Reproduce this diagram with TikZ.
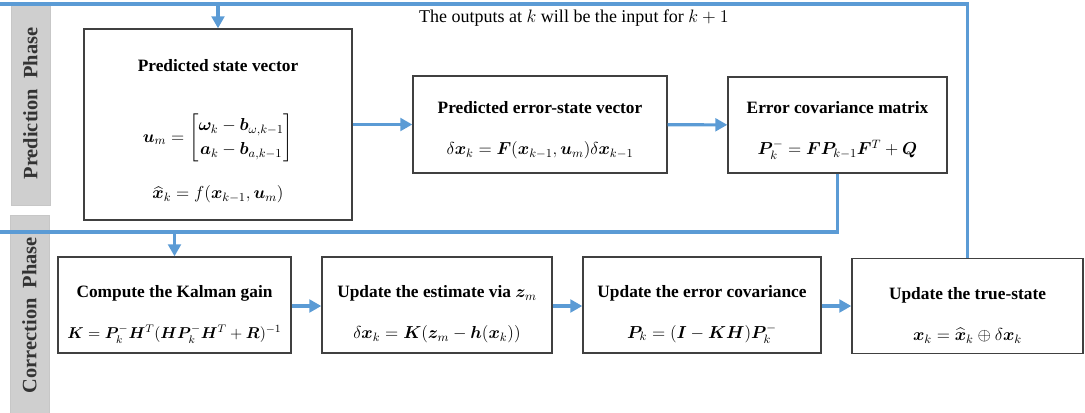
\documentclass[tikz,border=0pt]{standalone}
\usepackage{fix-cm}
\usepackage{amsmath}
\usepackage{bm}
\usepackage{fontspec}
\setmainfont{Liberation Serif}[BoldFont={Liberation Serif Bold},
    ItalicFont={Liberation Serif Italic}]
\usetikzlibrary{arrows.meta}

\definecolor{flowblue}{RGB}{91,155,213}
\newcommand{\pxu}{0.75pt}
\newcommand{\headgap}[1]{\rule{0pt}{#1}}

\begin{document}
\begin{tikzpicture}[
        x=0.75pt, y=-0.75pt,
        flow/.style={draw=flowblue, line width=2.3pt,
            -{Triangle[length=9pt,width=9.5pt]}},
        stepbox/.style={draw=black!75, line width=1pt, fill=white,
            align=center, inner sep=2pt,
            font=\fontsize{13}{15.6}\selectfont},
        phase/.style={draw=black!22, fill=black!19, rotate=90,
            font=\fontsize{15.3}{17}\selectfont\bfseries, text=black!80}
    ]

        \useasboundingbox (0,0) rectangle (1085,412);

        % Fasi
        \node[phase, minimum width=203*\pxu, minimum height=39*\pxu]
            (predphase) at (30.5,103.5) {Prediction\ \ Phase};
        \node[phase, minimum width=200*\pxu, minimum height=39*\pxu]
            (corrphase) at (29.5,315) {Correction\ \ Phase};

        % Fase di predizione
        \node[stepbox, minimum width=268*\pxu, minimum height=191*\pxu]
            (pred) at (218,124.5) {\headgap{19pt}\textbf{Predicted state vector}\\[31pt]
            $\renewcommand{\arraystretch}{1.15}
            \bm{u}_m = \begin{bmatrix} \bm{\omega}_k - \bm{b}_{\omega,k-1}\\
            \bm{a}_k - \bm{b}_{a,k-1} \end{bmatrix}$\\[17pt]
            $\widehat{\bm{x}}_k = f(\bm{x}_{k-1},\bm{u}_m)$};

        \node[stepbox, minimum width=254*\pxu, minimum height=97*\pxu]
            (errstate) at (540,124.5) {\headgap{17.5pt}\textbf{Predicted error-state vector}\\[15pt]
            $\delta\bm{x}_k = \bm{F}(\bm{x}_{k-1},\bm{u}_m)\delta\bm{x}_{k-1}$};

        \node[stepbox, minimum width=219*\pxu, minimum height=96*\pxu]
            (errcov) at (837.5,125) {\headgap{17.5pt}\textbf{Error covariance matrix}\\[15pt]
            $\bm{P}_k^- = \bm{F}\bm{P}_{k-1}\bm{F}^T + \bm{Q}$};

        % Fase di correzione
        \node[stepbox, minimum width=233*\pxu, minimum height=96*\pxu]
            (gain) at (174.5,305) {\headgap{23pt}\textbf{Compute the Kalman gain}\\[15pt]
            {\fontsize{11.8}{14}\selectfont
            $\bm{K} = \bm{P}_k^-\bm{H}^T(\bm{H}\bm{P}_k^-\bm{H}^T + \bm{R})^{-1}$}};

        \node[stepbox, minimum width=230*\pxu, minimum height=96*\pxu]
            (estim) at (437,305) {\headgap{23pt}\textbf{Update the estimate via $\bm{z}_m$}\\[15pt]
            $\delta\bm{x}_k = \bm{K}(\bm{z}_m - \bm{h}(\bm{x}_k))$};

        \node[stepbox, minimum width=238*\pxu, minimum height=96*\pxu]
            (errupd) at (702,305) {\headgap{23pt}\textbf{Update the error covariance}\\[15pt]
            $\bm{P}_k = (\bm{I} - \bm{K}\bm{H})\bm{P}_k^-$};

        \node[stepbox, minimum width=231*\pxu, minimum height=95*\pxu]
            (truest) at (967.5,306) {\headgap{23pt}\textbf{Update the true-state}\\[15pt]
            $\bm{x}_k = \widehat{\bm{x}}_k \oplus \delta\bm{x}_k$};

        % Frecce
        \draw[flow] (pred) -- (errstate);
        \draw[flow] (errstate) -- (errcov);
        \draw[flow] (gain.east |- 0,306) -- (estim.west |- 0,306);
        \draw[flow] (estim.east |- 0,306) -- (errupd.west |- 0,306);
        \draw[flow] (errupd.east |- 0,306) -- (truest.west |- 0,306);

        % Collegamento tra le fasi
        \coordinate (mid) at (0,232);
        \draw[flow] (errcov.south) |- (mid) -| (gain.north);

        % Retroazione
        \coordinate (top) at (0,4);
        \draw[flow] (truest.north) |- (top) -| (pred.north);
        \node[font=\fontsize{13.5}{16}\selectfont] (note) at (574,18)
            {The outputs at $k$ will be the input for $k+1$};

    \end{tikzpicture}
\end{document}
